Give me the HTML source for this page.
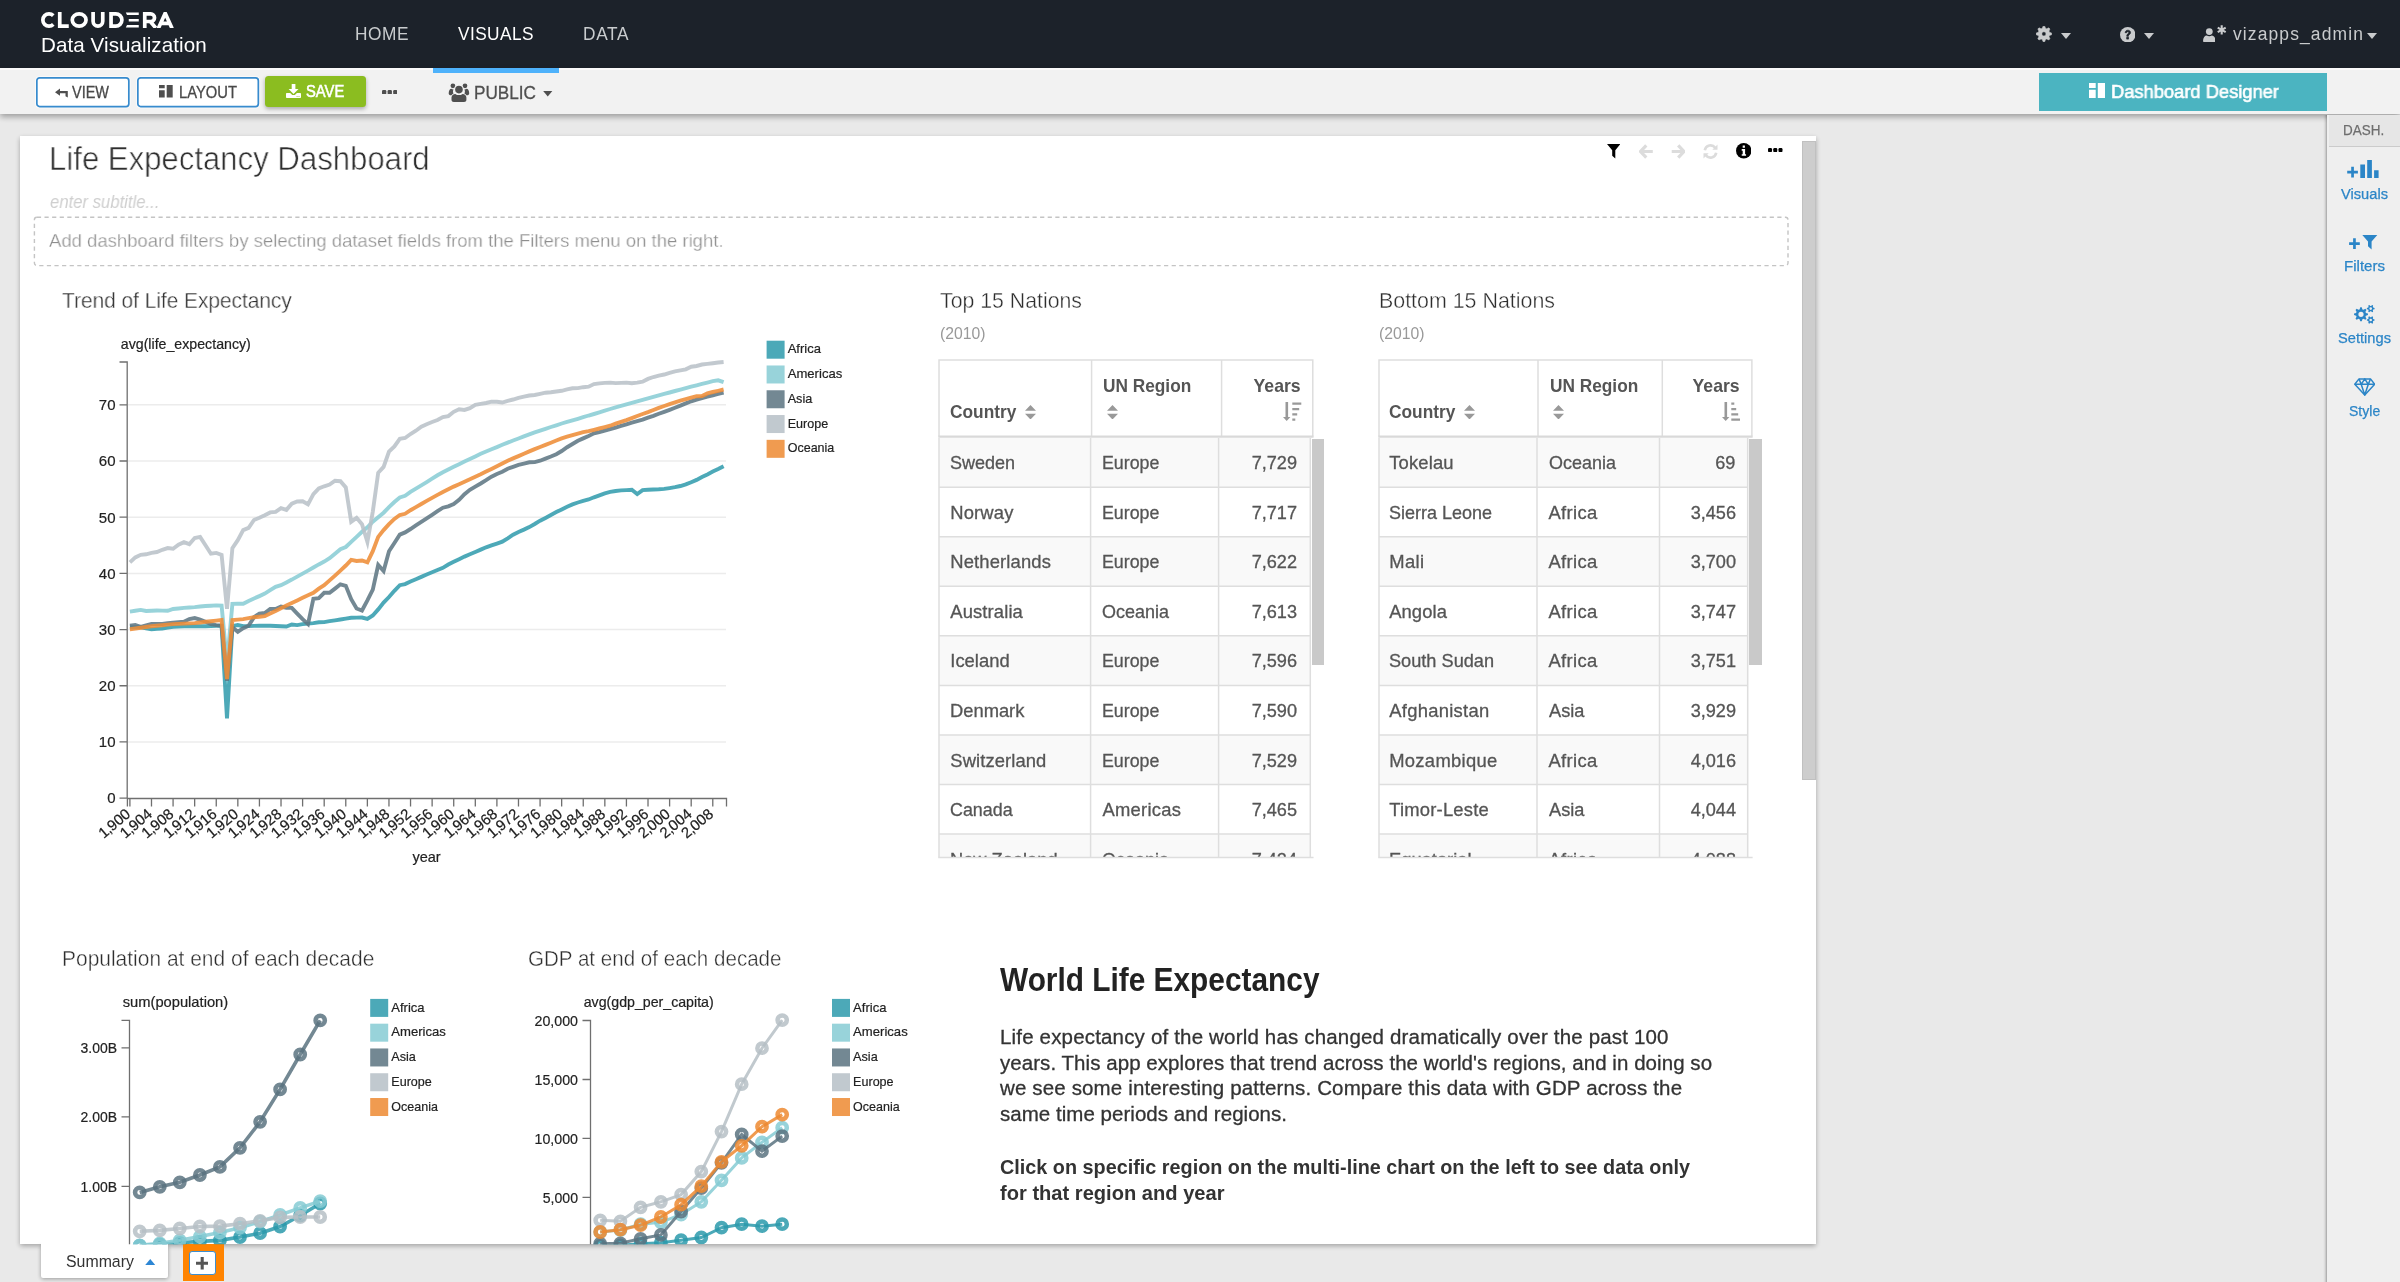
<!DOCTYPE html>
<html><head><meta charset="utf-8"><title>Life Expectancy Dashboard</title>
<style>
html,body{margin:0;padding:0}
body{width:2400px;height:1282px;overflow:hidden;position:relative;background:#e9e9e9;font-family:"Liberation Sans",sans-serif}
.a{position:absolute;display:block}
.t{position:absolute;white-space:nowrap;line-height:1;display:block}
svg text{font-family:"Liberation Sans",sans-serif;stroke:#222;stroke-width:.2px}
</style></head><body><div id="root" style="position:absolute;left:0;top:0;width:2400px;height:1282px;will-change:transform;opacity:.9999">

<div class="a" style="left:0;top:0;width:2400px;height:68px;background:#1c222a"></div>
<div class="a" style="left:0;top:68px;width:2400px;height:46px;background:#f2f2f2;box-shadow:0 3px 6px rgba(0,0,0,.32)"></div>
<div class="a" style="left:0;top:68px;width:2400px;height:1.500px;background:#fafafa"></div>
<svg class="a" style="left:40px;top:12.300px" width="136" height="16" viewBox="0 0 136 16"><g fill="none" stroke="#fff" stroke-width="3.700"><path d="M13.300 3.600A6.150 6.150 0 1 0 13.300 12.400"/><path d="M19.750 0V14.150H28.750"/><ellipse cx="39.150" cy="8" rx="6.900" ry="6.150"/><path d="M53.100 0V9.300A4.825 4.850 0 0 0 62.750 9.300V0"/><path d="M71.050 1.850H75.750A6.150 6.150 0 0 1 75.750 14.150H71.050Z"/><path d="M104.750 16V1.850H110.700A3.825 3.825 0 0 1 110.700 9.500H104.750M110.300 9.500L115.800 16"/><path d="M118.300 16.500L125.200 1.200L132.100 16.500M121.600 11.400H128.800" stroke-linejoin="miter"/></g><path d="M85.800 .6h12.950v2.500H87zM88.750 6.900h10v2.500h-10zM87 13.100h11.750v2.500H85.800z" fill="#fff"/></svg>
<span class="t" style="left:41.00px;top:34.66px;font-size:20.6px;color:#fff;letter-spacing:0.070px;">Data Visualization</span>
<span class="t" style="left:355.00px;top:24.76px;font-size:18.6px;color:#c9ccce;letter-spacing:0.576px;transform:scaleX(0.9300);transform-origin:left center;">HOME</span>
<span class="t" style="left:457.50px;top:24.76px;font-size:18.6px;color:#fff;letter-spacing:0.436px;transform:scaleX(0.9300);transform-origin:left center;">VISUALS</span>
<span class="t" style="left:582.50px;top:24.76px;font-size:18.6px;color:#c9ccce;letter-spacing:0.694px;transform:scaleX(0.9300);transform-origin:left center;">DATA</span>
<div class="a" style="left:433px;top:68px;width:126px;height:4.5px;background:#4eb2fb"></div>
<svg class="a" style="left:2035.800px;top:26.200px" width="15.800" height="15.800" viewBox="0 0 16 16"><path fill="#c9cbcd" fill-rule="evenodd" stroke="#c9cbcd" stroke-width=".5" stroke-linejoin="round" d="M15.86 7.16L15.86 8.84L13.66 9.67L13.18 10.82L14.15 12.96L12.96 14.15L10.82 13.18L9.67 13.66L8.84 15.86L7.16 15.86L6.33 13.66L5.18 13.18L3.04 14.15L1.85 12.96L2.82 10.82L2.34 9.67L0.14 8.84L0.14 7.16L2.34 6.33L2.82 5.18L1.85 3.04L3.04 1.85L5.18 2.82L6.33 2.34L7.16 0.14L8.84 0.14L9.67 2.34L10.82 2.82L12.96 1.85L14.15 3.04L13.18 5.18L13.66 6.33ZM10.10 8.00A2.1 2.1 0 1 0 5.90 8.00A2.1 2.1 0 1 0 10.10 8.00Z"/></svg>
<svg class="a" style="left:2061.3px;top:33.3px" width="10" height="6" viewBox="0 0 10 6"><path d="M0 0h10L5 6z" fill="#c9cbcd"/></svg>
<svg class="a" style="left:2119.5px;top:26.5px" width="15.5" height="15.5" viewBox="0 0 16 16"><circle cx="8" cy="8" r="8" fill="#c9cbcd"/><path d="M5.300 5.900C5.400 4.300 6.500 3.300 8.100 3.300c1.600 0 2.800 1 2.800 2.400 0 1.100-.6 1.700-1.400 2.200-.6.4-.8.700-.8 1.400v.3H7v-.5c0-1 .4-1.600 1.200-2.100.6-.4.900-.7.900-1.200 0-.6-.4-1-1.100-1-.7 0-1.100.4-1.200 1.100zM6.900 10.600h1.900v1.900H6.900z" fill="#1c222a" stroke="#1c222a" stroke-width=".7"/></svg>
<svg class="a" style="left:2144px;top:33.3px" width="10" height="6" viewBox="0 0 10 6"><path d="M0 0h10L5 6z" fill="#c9cbcd"/></svg>
<svg class="a" style="left:2202.800px;top:28.200px" width="12.600" height="14.300" viewBox="0 0 14 16"><circle cx="7" cy="4" r="3.800" fill="#c9cbcd"/><path d="M0 14.500C0 10.500 2 8.300 4.200 8.300c.8.600 1.700.9 2.800.9s2-.3 2.800-.9c2.200 0 4.200 2.200 4.200 6.200 0 .9-.7 1.500-1.600 1.500H1.600C.7 16 0 15.400 0 14.500z" fill="#c9cbcd"/></svg>
<svg class="a" style="left:0;top:0" width="2400" height="68" viewBox="0 0 2400 68"><path d="M2221.70 25.30L2221.70 34.50M2217.72 27.60L2225.68 32.20M2225.68 27.60L2217.72 32.20" stroke="#c9cbcd" stroke-width="2.100" fill="none"/></svg>
<span class="t" style="left:2232.50px;top:24.59px;font-size:18.8px;color:#c9cbcd;letter-spacing:1.199px;transform:scaleX(0.9300);transform-origin:left center;">vizapps_admin</span>
<svg class="a" style="left:2366.7px;top:32.5px" width="10" height="6" viewBox="0 0 10 6"><path d="M0 0h10L5 6z" fill="#c9cbcd"/></svg>
<svg class="a" style="left:34.4px;top:74.8px" width="97.7" height="34.4" viewBox="-2 -2 97.7 34.4"><rect x="-.3" y="-.3" width="94.3" height="31.0" rx="3.600" fill="none" stroke="rgba(255,255,255,.55)" stroke-width="1.400"/><rect x=".85" y=".85" width="92.0" height="28.7" rx="2.800" fill="#fff" stroke="#378bce" stroke-width="1.700"/></svg>
<svg class="a" style="left:134.9px;top:74.8px" width="126.2" height="34.4" viewBox="-2 -2 126.2 34.4"><rect x="-.3" y="-.3" width="122.8" height="31.0" rx="3.600" fill="none" stroke="rgba(255,255,255,.55)" stroke-width="1.400"/><rect x=".85" y=".85" width="120.5" height="28.7" rx="2.800" fill="#fff" stroke="#378bce" stroke-width="1.700"/></svg>
<div class="a" style="left:265.3px;top:76.3px;width:100.7px;height:31px;background:#8bbd20;border-radius:3.500px;box-shadow:0 2px 4px rgba(0,0,0,.3);"></div>
<svg class="a" style="left:55px;top:87.500px" width="13" height="10" viewBox="0 0 13 10"><path d="M5 .5v2.500h7.800V9.500L10.500 8.300V5.300H5v2.500L0 4.200z" fill="#4f4f4f"/></svg>
<span class="t" style="left:71.70px;top:84.02px;font-size:16.4px;color:#484848;transform:scaleX(0.8828);transform-origin:left center;-webkit-text-stroke:.3px #484848;">VIEW</span>
<svg class="a" style="left:159.300px;top:85.200px" width="13.700" height="12.600" viewBox="0 0 13.700 12.600"><path d="M0 0h5.700v3.300H0zM0 5.300h5.700v7.300H0zM7.700 0h6v12.600h-6z" fill="#4f4f4f"/></svg>
<span class="t" style="left:178.50px;top:84.02px;font-size:16.4px;color:#484848;transform:scaleX(0.9007);transform-origin:left center;-webkit-text-stroke:.3px #484848;">LAYOUT</span>
<svg class="a" style="left:286.300px;top:84px" width="15" height="14" viewBox="0 0 15 14"><path d="M5.700 0h3.700v5h3.100L7.550 10 2.600 5h3.100zM.8 9h3.400L6.300 11.100h2.500L10.900 9h3.300a.8.8 0 0 1 .8.800V13.200a.8.800 0 0 1-.8.800H.8A.8.800 0 0 1 0 13.200V9.800A.8.800 0 0 1 .8 9z" fill="#fff"/><path d="M10.600 11.900h1v.9h-1zM12.500 11.900h1v.9h-1z" fill="#8bbd20"/></svg>
<span class="t" style="left:305.70px;top:83.78px;font-size:16.8px;color:#fff;transform:scaleX(0.8790);transform-origin:left center;-webkit-text-stroke:.55px #fff;">SAVE</span>
<svg class="a" style="left:381.500px;top:89.800px" width="15.500" height="4.500" viewBox="0 0 15.500 4.500"><rect x="0" y="0" width="4.300" height="4.500" rx="1.200" fill="#4f4f4f"/><rect x="5.600" y="0" width="4.300" height="4.500" rx="1.200" fill="#4f4f4f"/><rect x="11.200" y="0" width="4.300" height="4.500" rx="1.200" fill="#4f4f4f"/></svg>
<svg class="a" style="left:448px;top:83px" width="21.500" height="19.500" viewBox="0 0 21.500 19.500"><g fill="#4f4f4f"><circle cx="4.900" cy="2.800" r="2.350"/><circle cx="17" cy="2.800" r="2.350"/><path d="M.7 10.300C.7 7.400 1.900 5.700 3.300 5.700c.6.500 1.400.700 2.200.700-.7 1.300-.7 2.800 0 4.100-.9.300-1.600.900-2 1.700H2.200C1.300 12.200.7 11.400.7 10.300zM21.200 10.300c0-2.900-1.200-4.600-2.600-4.600-.6.500-1.400.700-2.200.700.7 1.300.7 2.800 0 4.100.9.300 1.600.900 2 1.700h1.300c.9 0 1.500-.8 1.500-1.900z"/><circle cx="10.950" cy="6.600" r="4.700" fill="#f2f2f2"/><circle cx="10.950" cy="6.600" r="3.800"/><path d="M3.500 16.800V14.600C3.500 12.400 5.300 10.900 7.300 10.900c1 .8 2.250 1.200 3.650 1.200s2.650-.4 3.650-1.200c2 0 3.800 1.500 3.800 3.700v2.200c0 1.300-1 2.300-2.300 2.300H5.800c-1.300 0-2.300-1-2.300-2.300z"/></g></svg>
<span class="t" style="left:474.00px;top:82.92px;font-size:19px;color:#4f4f4f;transform:scaleX(0.9033);transform-origin:left center;-webkit-text-stroke:.3px #4f4f4f;">PUBLIC</span>
<svg class="a" style="left:543px;top:91px" width="9.5" height="5.5" viewBox="0 0 10 6"><path d="M0 0h10L5 6z" fill="#4f4f4f"/></svg>
<div class="a" style="left:2039px;top:72.700px;width:288.300px;height:38.200px;background:#4bb4c1"></div>
<svg class="a" style="left:2088.800px;top:82.500px" width="16" height="15.500" viewBox="0 0 16 15.500"><path d="M0 0h6.700v5H0zM0 6.800h6.700v8.700H0zM8.800 0H16v15.500H8.800z" fill="#fff"/></svg>
<span class="t" style="left:2111.20px;top:83.16px;font-size:18.6px;color:#fff;transform:scaleX(0.9848);transform-origin:left center;-webkit-text-stroke:.6px #fff;">Dashboard Designer</span>
<div class="a" style="left:19.7px;top:135.5px;width:1796.1px;height:1108.8px;background:#fff;box-shadow:0 2px 5px rgba(0,0,0,.3)"></div>
<div class="a" style="left:1801.8px;top:141px;width:14px;height:639px;background:#cdcdcd;border:1px solid #c0c0c0;box-sizing:border-box"></div>
<span class="t" style="left:48.70px;top:141.64px;font-size:33.5px;color:#2e2e2e;transform:scaleX(0.9290);transform-origin:left center;-webkit-text-stroke:.65px #fff;">Life Expectancy Dashboard</span>
<span class="t" style="left:50.00px;top:193.83px;font-size:17.8px;color:#cfcfcf;transform:scaleX(0.9379);transform-origin:left center;font-style:italic;">enter subtitle...</span>
<svg class="a" style="left:32px;top:215px" width="1760" height="54" viewBox="32 215 1760 54"><rect x="34.400" y="217.300" width="1753.600" height="48.300" rx="2.500" fill="none" stroke="#c4c4c4" stroke-width="1.400" stroke-dasharray="4.200 3.400"/></svg>
<span class="t" style="left:48.70px;top:230.82px;font-size:19px;color:#8e8e8e;transform:scaleX(0.9736);transform-origin:left center;-webkit-text-stroke:.3px #fff;">Add dashboard filters by selecting dataset fields from the Filters menu on the right.</span>
<svg class="a" style="left:1606.500px;top:144px" width="13.500" height="14.500" viewBox="0 0 13.500 14.500"><path d="M0 0h13.500L8.300 6.300v8.200L5.200 11.700V6.300z" fill="#000"/></svg>
<svg class="a" style="left:1638.500px;top:144px" width="14.500" height="15" viewBox="0 0 14.500 15"><path d="M7.300 1.300L1.500 7.500l5.800 6.200M1.800 7.500h12" fill="none" stroke="#dcdcdc" stroke-width="3.200"/></svg>
<svg class="a" style="left:1670.500px;top:144px" width="14.500" height="15" viewBox="0 0 14.500 15"><path d="M7.200 1.300L13 7.500l-5.800 6.200M12.700 7.500H.7" fill="none" stroke="#dcdcdc" stroke-width="3.200"/></svg>
<svg class="a" style="left:1703px;top:143.500px" width="15" height="15" viewBox="0 0 15 15"><g fill="none" stroke="#dcdcdc" stroke-width="2.600"><path d="M1.800 6.300A5.800 5.800 0 0 1 12.300 3.900"/><path d="M13.200 8.700A5.800 5.800 0 0 1 2.700 11.100"/></g><path d="M14.500 .5v5.200H9.300zM.5 14.500V9.300h5.200z" fill="#dcdcdc"/></svg>
<svg class="a" style="left:1735.500px;top:143px" width="15.500" height="15.500" viewBox="0 0 16 16"><circle cx="8" cy="8" r="8" fill="#000"/><path d="M6.900 2.600h2.300v2.200H6.900zM5.900 6.300h3.500v5.200h1v1.700H5.900v-1.700h1V8H5.900z" fill="#fff"/></svg>
<svg class="a" style="left:1768px;top:148px" width="14.500" height="4.200" viewBox="0 0 14.500 4.200"><rect x="0" y="0" width="4" height="4.200" rx="1.200" fill="#000"/><rect x="5.250" y="0" width="4" height="4.200" rx="1.200" fill="#000"/><rect x="10.500" y="0" width="4" height="4.200" rx="1.200" fill="#000"/></svg>
<span class="t" style="left:61.90px;top:289.65px;font-size:22.5px;color:#2e2e2e;transform:scaleX(0.9264);transform-origin:left center;-webkit-text-stroke:.4px #fff;">Trend of Life Expectancy</span>
<span class="t" style="left:939.50px;top:289.65px;font-size:22.5px;color:#2e2e2e;transform:scaleX(0.9461);transform-origin:left center;-webkit-text-stroke:.4px #fff;">Top 15 Nations</span>
<span class="t" style="left:939.50px;top:324.53px;font-size:16.5px;color:#999;transform:scaleX(0.9541);transform-origin:left center;">(2010)</span>
<span class="t" style="left:1378.50px;top:289.65px;font-size:22.5px;color:#2e2e2e;transform:scaleX(0.9508);transform-origin:left center;-webkit-text-stroke:.4px #fff;">Bottom 15 Nations</span>
<span class="t" style="left:1378.50px;top:324.53px;font-size:16.5px;color:#999;transform:scaleX(0.9541);transform-origin:left center;">(2010)</span>
<span class="t" style="left:61.90px;top:947.95px;font-size:22.5px;color:#2e2e2e;transform:scaleX(0.9315);transform-origin:left center;-webkit-text-stroke:.4px #fff;">Population at end of each decade</span>
<span class="t" style="left:528.30px;top:947.95px;font-size:22.5px;color:#2e2e2e;transform:scaleX(0.9142);transform-origin:left center;-webkit-text-stroke:.4px #fff;">GDP at end of each decade</span>
<div class="a" style="left:41.3px;top:1244.5px;width:126.5px;height:33.2px;background:#fff;box-shadow:0 1px 4px rgba(0,0,0,.35);border-radius:0 0 2px 2px"></div>
<div class="a" style="left:41.3px;top:1240px;width:126.5px;height:8px;background:#fff"></div>
<span class="t" style="left:66.00px;top:1254.38px;font-size:16.8px;color:#333;transform:scaleX(0.9461);transform-origin:left center;">Summary</span>
<svg class="a" style="left:144.500px;top:1258.500px" width="10.500" height="6" viewBox="0 0 10 6"><path d="M0 6h10L5 0z" fill="#2d86d4"/></svg>
<div class="a" style="left:182.800px;top:1244px;width:41.200px;height:36.700px;background:#ff8400"></div>
<div class="a" style="left:189.300px;top:1251.200px;width:26.700px;height:23.500px;box-sizing:border-box;background:#fff;border:1px solid #3d8fd1;border-radius:3px"></div>
<svg class="a" style="left:196px;top:1257.400px" width="12.400" height="12.400" viewBox="0 0 12 12"><path d="M4.500 0h3v4.500H12v3H7.500V12H4.500V7.500H0V4.500h4.500z" fill="#555"/></svg>
<svg class="a" style="left:0;top:0" width="2400" height="1282" viewBox="0 0 2400 1282">
<defs><clipPath id="pc"><rect x="20" y="136" width="1796" height="1108.3"/></clipPath></defs>
<g clip-path="url(#pc)">
<path d="M127.8 741.96H726" stroke="#ececec" stroke-width="1.500" fill="none"/>
<path d="M127.8 685.77H726" stroke="#ececec" stroke-width="1.500" fill="none"/>
<path d="M127.8 629.58H726" stroke="#ececec" stroke-width="1.500" fill="none"/>
<path d="M127.8 573.39H726" stroke="#ececec" stroke-width="1.500" fill="none"/>
<path d="M127.8 517.20H726" stroke="#ececec" stroke-width="1.500" fill="none"/>
<path d="M127.8 461.01H726" stroke="#ececec" stroke-width="1.500" fill="none"/>
<path d="M127.8 404.82H726" stroke="#ececec" stroke-width="1.500" fill="none"/>
<path d="M129.9 627.3L135.3 627.3L140.7 627.3L146.1 628.3L151.5 629.2L156.9 628.8L162.3 628.5L167.7 627.6L173.1 626.8L178.5 626.5L183.9 626.2L189.3 626.2L194.7 626.2L200.1 626.2L205.5 626.2L210.9 626.1L216.3 625.9L221.6 625.8L227.0 718.4L232.4 626.2L237.8 625.1L243.2 626.2L248.6 626.1L254.0 625.9L259.4 625.8L264.8 625.8L270.2 625.8L275.6 626.0L281.0 626.2L286.4 626.5L291.8 624.5L297.2 625.1L302.6 624.1L308.0 623.6L313.4 623.1L318.8 622.3L324.2 622.1L329.6 621.2L335.0 620.3L340.4 619.5L345.8 618.6L351.2 617.8L356.6 617.6L362.0 617.5L367.4 618.9L372.8 615.5L378.2 609.4L383.6 602.6L389.0 597.0L394.4 590.8L399.8 585.2L405.1 584.1L410.5 581.5L415.9 579.2L421.3 576.9L426.7 574.5L432.1 572.3L437.5 570.0L442.9 567.8L448.3 564.5L453.7 561.8L459.1 559.2L464.5 556.6L469.9 554.3L475.3 552.0L480.7 549.6L486.1 547.3L491.5 545.4L496.9 543.6L502.3 541.7L507.7 538.3L513.1 534.7L518.5 531.9L523.9 529.6L529.3 527.1L534.7 524.0L540.1 520.7L545.5 517.9L550.9 515.0L556.3 512.1L561.7 509.4L567.1 506.7L572.5 504.4L577.9 502.5L583.2 500.9L588.6 499.5L594.0 497.3L599.4 495.3L604.8 493.3L610.2 491.9L615.6 491.0L621.0 490.4L626.4 490.1L631.8 489.8L637.2 494.0L642.6 490.1L648.0 489.8L653.4 489.5L658.8 489.3L664.2 488.9L669.6 488.1L675.0 487.2L680.4 486.0L685.8 484.4L691.2 482.2L696.6 479.9L702.0 477.0L707.4 474.4L712.8 471.6L718.2 469.0L723.6 466.2" fill="none" stroke="#349dae" stroke-width="3.900" stroke-opacity=".88" stroke-miterlimit="10"/>
<path d="M129.9 611.6L135.3 610.8L140.7 609.9L146.1 611.0L151.5 610.8L156.9 610.5L162.3 610.6L167.7 610.8L173.1 609.0L178.5 608.5L183.9 607.9L189.3 607.5L194.7 607.1L200.1 606.5L205.5 606.0L210.9 605.7L216.3 605.4L221.6 605.7L227.0 663.3L232.4 603.9L237.8 603.8L243.2 603.7L248.6 600.9L254.0 598.5L259.4 596.1L264.8 593.6L270.2 590.2L275.6 586.9L281.0 585.2L286.4 582.4L291.8 579.6L297.2 576.6L302.6 573.6L308.0 570.6L313.4 567.5L318.8 564.4L324.2 561.6L329.6 558.2L335.0 553.7L340.4 549.2L345.8 547.0L351.2 541.9L356.6 536.9L362.0 531.8L367.4 527.3L372.8 521.7L378.2 517.2L383.6 512.7L389.0 507.1L394.4 502.0L399.8 497.5L405.1 495.8L410.5 491.9L415.9 488.6L421.3 485.4L426.7 482.1L432.1 478.7L437.5 475.3L442.9 472.3L448.3 469.5L453.7 466.8L459.1 464.2L464.5 461.6L469.9 459.0L475.3 456.4L480.7 453.8L486.1 451.5L491.5 449.3L496.9 447.1L502.3 444.8L507.7 442.6L513.1 440.5L518.5 438.5L523.9 436.4L529.3 434.4L534.7 432.4L540.1 430.6L545.5 428.8L550.9 427.0L556.3 425.3L561.7 423.5L567.1 421.9L572.5 420.4L577.9 418.8L583.2 417.2L588.6 415.5L594.0 414.0L599.4 412.4L604.8 410.7L610.2 409.0L615.6 407.3L621.0 405.9L626.4 404.4L631.8 402.9L637.2 401.4L642.6 399.9L648.0 398.4L653.4 396.9L658.8 395.4L664.2 393.9L669.6 392.5L675.0 391.0L680.4 389.6L685.8 388.1L691.2 386.7L696.6 385.3L702.0 383.9L707.4 382.6L712.8 381.2L718.2 380.3L723.6 382.1" fill="none" stroke="#8acdd5" stroke-width="3.900" stroke-opacity=".88" stroke-miterlimit="10"/>
<path d="M129.9 625.8L135.3 625.1L140.7 626.8L146.1 625.4L151.5 624.0L156.9 624.0L162.3 624.0L167.7 623.3L173.1 622.6L178.5 622.1L183.9 621.7L189.3 619.1L194.7 618.1L200.1 619.7L205.5 621.7L210.9 624.1L216.3 625.1L221.6 625.8L227.0 680.7L232.4 627.3L237.8 631.8L243.2 628.2L248.6 625.8L254.0 617.2L259.4 613.6L264.8 613.0L270.2 609.0L275.6 609.0L281.0 606.5L286.4 607.7L291.8 607.9L297.2 613.6L302.6 619.1L308.0 624.1L313.4 598.7L318.8 598.1L324.2 592.8L329.6 592.8L335.0 588.6L340.4 584.3L345.8 585.8L351.2 599.2L356.6 608.5L362.0 610.5L367.4 600.4L372.8 589.7L378.2 565.0L383.6 571.1L389.0 551.2L394.4 543.0L399.8 534.6L405.1 532.4L410.5 529.0L415.9 525.4L421.3 521.9L426.7 518.3L432.1 514.8L437.5 511.2L442.9 507.7L448.3 506.3L453.7 504.0L459.1 499.8L464.5 494.2L469.9 489.8L475.3 486.6L480.7 483.5L486.1 480.2L491.5 476.7L496.9 473.9L502.3 471.7L507.7 468.7L513.1 466.8L518.5 464.9L523.9 463.6L529.3 462.3L534.7 462.1L540.1 460.7L545.5 458.6L550.9 456.5L556.3 454.2L561.7 451.0L567.1 447.2L572.5 444.0L577.9 440.8L583.2 438.4L588.6 436.0L594.0 433.3L599.4 432.1L604.8 430.6L610.2 429.1L615.6 427.6L621.0 425.9L626.4 424.3L631.8 422.7L637.2 421.2L642.6 419.6L648.0 417.7L653.4 415.9L658.8 413.8L664.2 411.8L669.6 409.8L675.0 407.7L680.4 405.6L685.8 403.4L691.2 401.3L696.6 399.7L702.0 398.1L707.4 396.7L712.8 395.3L718.2 393.9L723.6 392.6" fill="none" stroke="#607884" stroke-width="3.900" stroke-opacity=".88" stroke-miterlimit="10"/>
<path d="M129.9 562.4L135.3 557.4L140.7 554.8L146.1 554.3L151.5 552.9L156.9 552.0L162.3 549.8L167.7 548.1L173.1 548.7L178.5 544.7L183.9 542.2L189.3 544.2L194.7 538.0L200.1 536.9L205.5 545.3L210.9 553.7L216.3 552.9L221.6 554.8L227.0 608.8L232.4 548.1L237.8 540.2L243.2 530.1L248.6 527.9L254.0 520.0L259.4 517.8L264.8 515.2L270.2 512.4L275.6 511.9L281.0 508.2L286.4 509.9L291.8 503.7L297.2 501.5L302.6 501.2L308.0 504.3L313.4 494.2L318.8 488.5L324.2 486.3L329.6 484.6L335.0 480.7L340.4 481.2L345.8 487.4L351.2 521.7L356.6 517.8L362.0 524.2L367.4 541.9L372.8 511.6L378.2 472.8L383.6 466.9L389.0 451.5L394.4 446.4L399.8 438.8L405.1 438.0L410.5 434.0L415.9 430.7L421.3 426.7L426.7 424.2L432.1 422.0L437.5 420.0L442.9 417.0L448.3 416.1L453.7 411.8L459.1 409.2L464.5 409.9L469.9 408.1L475.3 404.8L480.7 403.9L486.1 403.0L491.5 401.7L496.9 401.7L502.3 402.5L507.7 400.8L513.1 399.5L518.5 397.9L523.9 396.7L529.3 395.5L534.7 395.0L540.1 393.9L545.5 392.7L550.9 392.2L556.3 391.5L561.7 390.8L567.1 389.4L572.5 388.3L577.9 388.1L583.2 387.2L588.6 386.7L594.0 384.1L599.4 383.4L604.8 382.9L610.2 382.6L615.6 383.1L621.0 382.9L626.4 382.6L631.8 383.3L637.2 382.6L642.6 381.7L648.0 378.9L653.4 377.0L658.8 375.6L664.2 374.5L669.6 372.8L675.0 371.4L680.4 370.4L685.8 369.3L691.2 366.7L696.6 366.0L702.0 364.5L707.4 363.9L712.8 363.2L718.2 362.5L723.6 362.0" fill="none" stroke="#b9c2c8" stroke-width="3.900" stroke-opacity=".88" stroke-miterlimit="10"/>
<path d="M129.9 629.2L135.3 628.5L140.7 627.7L146.1 627.0L151.5 626.2L156.9 625.7L162.3 625.2L167.7 624.6L173.1 624.1L178.5 623.9L183.9 623.6L189.3 623.4L194.7 623.1L200.1 622.5L205.5 621.8L210.9 621.2L216.3 620.6L221.6 620.0L227.0 679.0L232.4 620.0L237.8 619.6L243.2 619.1L248.6 618.1L254.0 617.2L259.4 616.7L264.8 616.1L270.2 613.6L275.6 611.0L281.0 608.3L286.4 605.6L291.8 602.9L297.2 600.4L302.6 597.8L308.0 595.3L313.4 592.8L318.8 588.6L324.2 585.2L329.6 580.4L335.0 575.6L340.4 570.6L345.8 565.5L351.2 559.9L356.6 561.0L362.0 560.5L367.4 562.4L372.8 551.2L378.2 536.9L383.6 530.1L389.0 524.2L394.4 518.9L399.8 515.0L405.1 513.8L410.5 510.2L415.9 507.1L421.3 504.0L426.7 500.9L432.1 497.9L437.5 494.9L442.9 492.0L448.3 489.3L453.7 486.6L459.1 484.2L464.5 481.8L469.9 479.3L475.3 476.7L480.7 474.3L486.1 471.6L491.5 468.9L496.9 466.2L502.3 463.4L507.7 460.7L513.1 458.4L518.5 456.1L523.9 453.7L529.3 451.4L534.7 449.1L540.1 447.0L545.5 444.9L550.9 442.7L556.3 440.5L561.7 438.4L567.1 436.7L572.5 435.1L577.9 433.6L583.2 432.1L588.6 431.2L594.0 429.9L599.4 428.5L604.8 427.1L610.2 425.7L615.6 423.6L621.0 421.9L626.4 420.1L631.8 418.1L637.2 416.0L642.6 414.0L648.0 412.1L653.4 410.0L658.8 407.9L664.2 406.0L669.6 404.1L675.0 402.4L680.4 400.7L685.8 399.2L691.2 397.6L696.6 396.2L702.0 396.0L707.4 393.4L712.8 392.0L718.2 390.8L723.6 389.5" fill="none" stroke="#ee8d38" stroke-width="3.900" stroke-opacity=".88" stroke-miterlimit="10"/>
<path d="M119.5 362H127.2V798.15H119.5M119.5 741.96H127.2M119.5 685.77H127.2M119.5 629.58H127.2M119.5 573.39H127.2M119.5 517.20H127.2M119.5 461.01H127.2M119.5 404.82H127.2" fill="none" stroke="#6f6f6f" stroke-width="1.300"/>
<text x="115.500" y="803.4" font-size="15" text-anchor="end" fill="#222">0</text>
<text x="115.500" y="747.3" font-size="15" text-anchor="end" fill="#222">10</text>
<text x="115.500" y="691.1" font-size="15" text-anchor="end" fill="#222">20</text>
<text x="115.500" y="634.9" font-size="15" text-anchor="end" fill="#222">30</text>
<text x="115.500" y="578.7" font-size="15" text-anchor="end" fill="#222">40</text>
<text x="115.500" y="522.5" font-size="15" text-anchor="end" fill="#222">50</text>
<text x="115.500" y="466.3" font-size="15" text-anchor="end" fill="#222">60</text>
<text x="115.500" y="410.1" font-size="15" text-anchor="end" fill="#222">70</text>
<path d="M127.4 806.6V798.5H726.5V806.6M129.90 798.5V806.6M151.49 798.5V806.6M173.08 798.5V806.6M194.66 798.5V806.6M216.25 798.5V806.6M237.84 798.5V806.6M259.43 798.5V806.6M281.02 798.5V806.6M302.60 798.5V806.6M324.19 798.5V806.6M345.78 798.5V806.6M367.37 798.5V806.6M388.96 798.5V806.6M410.54 798.5V806.6M432.13 798.5V806.6M453.72 798.5V806.6M475.31 798.5V806.6M496.90 798.5V806.6M518.48 798.5V806.6M540.07 798.5V806.6M561.66 798.5V806.6M583.25 798.5V806.6M604.84 798.5V806.6M626.42 798.5V806.6M648.01 798.5V806.6M669.60 798.5V806.6M691.19 798.5V806.6M712.78 798.5V806.6" fill="none" stroke="#6f6f6f" stroke-width="1.300"/>
<text transform="translate(131.5 815.6) rotate(-40)" font-size="15" text-anchor="end" fill="#222">1<tspan dx="-.6">,</tspan><tspan dx="-.6">900</tspan></text>
<text transform="translate(153.1 815.6) rotate(-40)" font-size="15" text-anchor="end" fill="#222">1<tspan dx="-.6">,</tspan><tspan dx="-.6">904</tspan></text>
<text transform="translate(174.7 815.6) rotate(-40)" font-size="15" text-anchor="end" fill="#222">1<tspan dx="-.6">,</tspan><tspan dx="-.6">908</tspan></text>
<text transform="translate(196.3 815.6) rotate(-40)" font-size="15" text-anchor="end" fill="#222">1<tspan dx="-.6">,</tspan><tspan dx="-.6">912</tspan></text>
<text transform="translate(217.9 815.6) rotate(-40)" font-size="15" text-anchor="end" fill="#222">1<tspan dx="-.6">,</tspan><tspan dx="-.6">916</tspan></text>
<text transform="translate(239.4 815.6) rotate(-40)" font-size="15" text-anchor="end" fill="#222">1<tspan dx="-.6">,</tspan><tspan dx="-.6">920</tspan></text>
<text transform="translate(261.0 815.6) rotate(-40)" font-size="15" text-anchor="end" fill="#222">1<tspan dx="-.6">,</tspan><tspan dx="-.6">924</tspan></text>
<text transform="translate(282.6 815.6) rotate(-40)" font-size="15" text-anchor="end" fill="#222">1<tspan dx="-.6">,</tspan><tspan dx="-.6">928</tspan></text>
<text transform="translate(304.2 815.6) rotate(-40)" font-size="15" text-anchor="end" fill="#222">1<tspan dx="-.6">,</tspan><tspan dx="-.6">932</tspan></text>
<text transform="translate(325.8 815.6) rotate(-40)" font-size="15" text-anchor="end" fill="#222">1<tspan dx="-.6">,</tspan><tspan dx="-.6">936</tspan></text>
<text transform="translate(347.4 815.6) rotate(-40)" font-size="15" text-anchor="end" fill="#222">1<tspan dx="-.6">,</tspan><tspan dx="-.6">940</tspan></text>
<text transform="translate(369.0 815.6) rotate(-40)" font-size="15" text-anchor="end" fill="#222">1<tspan dx="-.6">,</tspan><tspan dx="-.6">944</tspan></text>
<text transform="translate(390.6 815.6) rotate(-40)" font-size="15" text-anchor="end" fill="#222">1<tspan dx="-.6">,</tspan><tspan dx="-.6">948</tspan></text>
<text transform="translate(412.1 815.6) rotate(-40)" font-size="15" text-anchor="end" fill="#222">1<tspan dx="-.6">,</tspan><tspan dx="-.6">952</tspan></text>
<text transform="translate(433.7 815.6) rotate(-40)" font-size="15" text-anchor="end" fill="#222">1<tspan dx="-.6">,</tspan><tspan dx="-.6">956</tspan></text>
<text transform="translate(455.3 815.6) rotate(-40)" font-size="15" text-anchor="end" fill="#222">1<tspan dx="-.6">,</tspan><tspan dx="-.6">960</tspan></text>
<text transform="translate(476.9 815.6) rotate(-40)" font-size="15" text-anchor="end" fill="#222">1<tspan dx="-.6">,</tspan><tspan dx="-.6">964</tspan></text>
<text transform="translate(498.5 815.6) rotate(-40)" font-size="15" text-anchor="end" fill="#222">1<tspan dx="-.6">,</tspan><tspan dx="-.6">968</tspan></text>
<text transform="translate(520.1 815.6) rotate(-40)" font-size="15" text-anchor="end" fill="#222">1<tspan dx="-.6">,</tspan><tspan dx="-.6">972</tspan></text>
<text transform="translate(541.7 815.6) rotate(-40)" font-size="15" text-anchor="end" fill="#222">1<tspan dx="-.6">,</tspan><tspan dx="-.6">976</tspan></text>
<text transform="translate(563.3 815.6) rotate(-40)" font-size="15" text-anchor="end" fill="#222">1<tspan dx="-.6">,</tspan><tspan dx="-.6">980</tspan></text>
<text transform="translate(584.8 815.6) rotate(-40)" font-size="15" text-anchor="end" fill="#222">1<tspan dx="-.6">,</tspan><tspan dx="-.6">984</tspan></text>
<text transform="translate(606.4 815.6) rotate(-40)" font-size="15" text-anchor="end" fill="#222">1<tspan dx="-.6">,</tspan><tspan dx="-.6">988</tspan></text>
<text transform="translate(628.0 815.6) rotate(-40)" font-size="15" text-anchor="end" fill="#222">1<tspan dx="-.6">,</tspan><tspan dx="-.6">992</tspan></text>
<text transform="translate(649.6 815.6) rotate(-40)" font-size="15" text-anchor="end" fill="#222">1<tspan dx="-.6">,</tspan><tspan dx="-.6">996</tspan></text>
<text transform="translate(671.2 815.6) rotate(-40)" font-size="15" text-anchor="end" fill="#222">2<tspan dx="-.6">,</tspan><tspan dx="-.6">000</tspan></text>
<text transform="translate(692.8 815.6) rotate(-40)" font-size="15" text-anchor="end" fill="#222">2<tspan dx="-.6">,</tspan><tspan dx="-.6">004</tspan></text>
<text transform="translate(714.4 815.6) rotate(-40)" font-size="15" text-anchor="end" fill="#222">2<tspan dx="-.6">,</tspan><tspan dx="-.6">008</tspan></text>
<text x="120.800" y="348.500" font-size="14.500" fill="#222" textLength="130" lengthAdjust="spacingAndGlyphs">avg(life_expectancy)</text>
<text x="426.500" y="861.600" font-size="14.500" fill="#222" text-anchor="middle">year</text>
<rect x="766.6" y="340.70" width="18" height="18" fill="#4ca9b8"/>
<text x="787.7" y="353.30" font-size="13.300" fill="#222" textLength="33.3" lengthAdjust="spacingAndGlyphs">Africa</text>
<rect x="766.6" y="365.48" width="18" height="18" fill="#98d3da"/>
<text x="787.7" y="378.08" font-size="13.300" fill="#222" textLength="54.6" lengthAdjust="spacingAndGlyphs">Americas</text>
<rect x="766.6" y="390.26" width="18" height="18" fill="#738893"/>
<text x="787.7" y="402.86" font-size="13.300" fill="#222" textLength="24.6" lengthAdjust="spacingAndGlyphs">Asia</text>
<rect x="766.6" y="415.04" width="18" height="18" fill="#c1c9cf"/>
<text x="787.7" y="427.64" font-size="13.300" fill="#222" textLength="40.5" lengthAdjust="spacingAndGlyphs">Europe</text>
<rect x="766.6" y="439.82" width="18" height="18" fill="#f09b50"/>
<text x="787.7" y="452.42" font-size="13.300" fill="#222" textLength="46.6" lengthAdjust="spacingAndGlyphs">Oceania</text>
<g stroke="#2c9aab" fill="none" stroke-opacity=".85"><path d="M139.7 1245.7L159.8 1244.3L179.8 1242.8L199.9 1241.4L219.9 1240.4L240.0 1237.1L260.1 1233.2L280.1 1226.5L300.2 1215.5L320.2 1203.5" stroke-width="3.6"/>
<circle cx="139.7" cy="1245.7" r="4.65" stroke-width="4.5"/><circle cx="159.8" cy="1244.3" r="4.65" stroke-width="4.5"/><circle cx="179.8" cy="1242.8" r="4.65" stroke-width="4.5"/><circle cx="199.9" cy="1241.4" r="4.65" stroke-width="4.5"/><circle cx="219.9" cy="1240.4" r="4.65" stroke-width="4.5"/><circle cx="240.0" cy="1237.1" r="4.65" stroke-width="4.5"/><circle cx="260.1" cy="1233.2" r="4.65" stroke-width="4.5"/><circle cx="280.1" cy="1226.5" r="4.65" stroke-width="4.5"/><circle cx="300.2" cy="1215.5" r="4.65" stroke-width="4.5"/><circle cx="320.2" cy="1203.5" r="4.65" stroke-width="4.5"/></g>
<g stroke="#86cbd3" fill="none" stroke-opacity=".85"><path d="M139.7 1245.4L159.8 1243.4L179.8 1240.3L199.9 1236.6L219.9 1232.6L240.0 1227.7L260.1 1221.7L280.1 1215.0L300.2 1207.9L320.2 1201.1" stroke-width="3.6"/>
<circle cx="139.7" cy="1245.4" r="4.65" stroke-width="4.5"/><circle cx="159.8" cy="1243.4" r="4.65" stroke-width="4.5"/><circle cx="179.8" cy="1240.3" r="4.65" stroke-width="4.5"/><circle cx="199.9" cy="1236.6" r="4.65" stroke-width="4.5"/><circle cx="219.9" cy="1232.6" r="4.65" stroke-width="4.5"/><circle cx="240.0" cy="1227.7" r="4.65" stroke-width="4.5"/><circle cx="260.1" cy="1221.7" r="4.65" stroke-width="4.5"/><circle cx="280.1" cy="1215.0" r="4.65" stroke-width="4.5"/><circle cx="300.2" cy="1207.9" r="4.65" stroke-width="4.5"/><circle cx="320.2" cy="1201.1" r="4.65" stroke-width="4.5"/></g>
<g stroke="#5a7380" fill="none" stroke-opacity=".85"><path d="M139.7 1192.4L159.8 1186.8L179.8 1182.3L199.9 1175.0L219.9 1166.9L240.0 1147.8L260.1 1121.8L280.1 1089.4L300.2 1054.5L320.2 1020.4" stroke-width="3.6"/>
<circle cx="139.7" cy="1192.4" r="4.65" stroke-width="4.5"/><circle cx="159.8" cy="1186.8" r="4.65" stroke-width="4.5"/><circle cx="179.8" cy="1182.3" r="4.65" stroke-width="4.5"/><circle cx="199.9" cy="1175.0" r="4.65" stroke-width="4.5"/><circle cx="219.9" cy="1166.9" r="4.65" stroke-width="4.5"/><circle cx="240.0" cy="1147.8" r="4.65" stroke-width="4.5"/><circle cx="260.1" cy="1121.8" r="4.65" stroke-width="4.5"/><circle cx="280.1" cy="1089.4" r="4.65" stroke-width="4.5"/><circle cx="300.2" cy="1054.5" r="4.65" stroke-width="4.5"/><circle cx="320.2" cy="1020.4" r="4.65" stroke-width="4.5"/></g>
<g stroke="#b6bfc6" fill="none" stroke-opacity=".85"><path d="M139.7 1231.3L159.8 1230.4L179.8 1228.5L199.9 1226.5L219.9 1226.1L240.0 1223.7L260.1 1220.8L280.1 1217.4L300.2 1217.0L320.2 1217.0" stroke-width="3.6"/>
<circle cx="139.7" cy="1231.3" r="4.65" stroke-width="4.5"/><circle cx="159.8" cy="1230.4" r="4.65" stroke-width="4.5"/><circle cx="179.8" cy="1228.5" r="4.65" stroke-width="4.5"/><circle cx="199.9" cy="1226.5" r="4.65" stroke-width="4.5"/><circle cx="219.9" cy="1226.1" r="4.65" stroke-width="4.5"/><circle cx="240.0" cy="1223.7" r="4.65" stroke-width="4.5"/><circle cx="260.1" cy="1220.8" r="4.65" stroke-width="4.5"/><circle cx="280.1" cy="1217.4" r="4.65" stroke-width="4.5"/><circle cx="300.2" cy="1217.0" r="4.65" stroke-width="4.5"/><circle cx="320.2" cy="1217.0" r="4.65" stroke-width="4.5"/></g>
<g stroke="#ed8931" fill="none" stroke-opacity=".85"><path d="M139.7 1255.0L159.8 1255.0L179.8 1255.0L199.9 1255.0L219.9 1255.0L240.0 1255.0L260.1 1255.0L280.1 1254.8L300.2 1254.6L320.2 1254.4" stroke-width="3.6"/>
<circle cx="139.7" cy="1255.0" r="4.65" stroke-width="4.5"/><circle cx="159.8" cy="1255.0" r="4.65" stroke-width="4.5"/><circle cx="179.8" cy="1255.0" r="4.65" stroke-width="4.5"/><circle cx="199.9" cy="1255.0" r="4.65" stroke-width="4.5"/><circle cx="219.9" cy="1255.0" r="4.65" stroke-width="4.5"/><circle cx="240.0" cy="1255.0" r="4.65" stroke-width="4.5"/><circle cx="260.1" cy="1255.0" r="4.65" stroke-width="4.5"/><circle cx="280.1" cy="1254.8" r="4.65" stroke-width="4.5"/><circle cx="300.2" cy="1254.6" r="4.65" stroke-width="4.5"/><circle cx="320.2" cy="1254.4" r="4.65" stroke-width="4.5"/></g>
<path d="M121.5 1020.4H129.5V1260M121.5 1047.8H129.5M121.5 1116.8H129.5M121.5 1186.3H129.5" fill="none" stroke="#6f6f6f" stroke-width="1.300"/>
<text x="117" y="1053.1" font-size="15" text-anchor="end" fill="#222" textLength="36.500" lengthAdjust="spacingAndGlyphs">3.00B</text>
<text x="117" y="1122.1" font-size="15" text-anchor="end" fill="#222" textLength="36.500" lengthAdjust="spacingAndGlyphs">2.00B</text>
<text x="117" y="1191.6" font-size="15" text-anchor="end" fill="#222" textLength="36.500" lengthAdjust="spacingAndGlyphs">1.00B</text>
<text x="122.700" y="1006.500" font-size="14.500" fill="#222" textLength="105.500" lengthAdjust="spacingAndGlyphs">sum(population)</text>
<rect x="370.2" y="998.90" width="18" height="18" fill="#4ca9b8"/>
<text x="391.3" y="1011.50" font-size="13.300" fill="#222" textLength="33.3" lengthAdjust="spacingAndGlyphs">Africa</text>
<rect x="370.2" y="1023.68" width="18" height="18" fill="#98d3da"/>
<text x="391.3" y="1036.28" font-size="13.300" fill="#222" textLength="54.6" lengthAdjust="spacingAndGlyphs">Americas</text>
<rect x="370.2" y="1048.46" width="18" height="18" fill="#738893"/>
<text x="391.3" y="1061.06" font-size="13.300" fill="#222" textLength="24.6" lengthAdjust="spacingAndGlyphs">Asia</text>
<rect x="370.2" y="1073.24" width="18" height="18" fill="#c1c9cf"/>
<text x="391.3" y="1085.84" font-size="13.300" fill="#222" textLength="40.5" lengthAdjust="spacingAndGlyphs">Europe</text>
<rect x="370.2" y="1098.02" width="18" height="18" fill="#f09b50"/>
<text x="391.3" y="1110.62" font-size="13.300" fill="#222" textLength="46.6" lengthAdjust="spacingAndGlyphs">Oceania</text>
<g stroke="#2c9aab" fill="none" stroke-opacity=".85"><path d="M600.2 1246.0L620.4 1245.3L640.6 1243.7L660.9 1242.7L681.1 1240.2L701.3 1237.5L721.5 1227.7L741.7 1224.2L762.0 1226.2L782.2 1224.2" stroke-width="3.0"/>
<circle cx="600.2" cy="1246.0" r="4.65" stroke-width="4.5"/><circle cx="620.4" cy="1245.3" r="4.65" stroke-width="4.5"/><circle cx="640.6" cy="1243.7" r="4.65" stroke-width="4.5"/><circle cx="660.9" cy="1242.7" r="4.65" stroke-width="4.5"/><circle cx="681.1" cy="1240.2" r="4.65" stroke-width="4.5"/><circle cx="701.3" cy="1237.5" r="4.65" stroke-width="4.5"/><circle cx="721.5" cy="1227.7" r="4.65" stroke-width="4.5"/><circle cx="741.7" cy="1224.2" r="4.65" stroke-width="4.5"/><circle cx="762.0" cy="1226.2" r="4.65" stroke-width="4.5"/><circle cx="782.2" cy="1224.2" r="4.65" stroke-width="4.5"/></g>
<g stroke="#86cbd3" fill="none" stroke-opacity=".85"><path d="M600.2 1232.0L620.4 1230.0L640.6 1224.2L660.9 1222.3L681.1 1214.5L701.3 1201.8L721.5 1180.3L741.7 1157.9L762.0 1142.3L782.2 1127.7" stroke-width="3.0"/>
<circle cx="600.2" cy="1232.0" r="4.65" stroke-width="4.5"/><circle cx="620.4" cy="1230.0" r="4.65" stroke-width="4.5"/><circle cx="640.6" cy="1224.2" r="4.65" stroke-width="4.5"/><circle cx="660.9" cy="1222.3" r="4.65" stroke-width="4.5"/><circle cx="681.1" cy="1214.5" r="4.65" stroke-width="4.5"/><circle cx="701.3" cy="1201.8" r="4.65" stroke-width="4.5"/><circle cx="721.5" cy="1180.3" r="4.65" stroke-width="4.5"/><circle cx="741.7" cy="1157.9" r="4.65" stroke-width="4.5"/><circle cx="762.0" cy="1142.3" r="4.65" stroke-width="4.5"/><circle cx="782.2" cy="1127.7" r="4.65" stroke-width="4.5"/></g>
<g stroke="#5a7380" fill="none" stroke-opacity=".85"><path d="M600.2 1243.7L620.4 1243.3L640.6 1238.8L660.9 1234.9L681.1 1211.5L701.3 1188.1L721.5 1162.8L741.7 1134.5L762.0 1151.1L782.2 1136.1" stroke-width="3.0"/>
<circle cx="600.2" cy="1243.7" r="4.65" stroke-width="4.5"/><circle cx="620.4" cy="1243.3" r="4.65" stroke-width="4.5"/><circle cx="640.6" cy="1238.8" r="4.65" stroke-width="4.5"/><circle cx="660.9" cy="1234.9" r="4.65" stroke-width="4.5"/><circle cx="681.1" cy="1211.5" r="4.65" stroke-width="4.5"/><circle cx="701.3" cy="1188.1" r="4.65" stroke-width="4.5"/><circle cx="721.5" cy="1162.8" r="4.65" stroke-width="4.5"/><circle cx="741.7" cy="1134.5" r="4.65" stroke-width="4.5"/><circle cx="762.0" cy="1151.1" r="4.65" stroke-width="4.5"/><circle cx="782.2" cy="1136.1" r="4.65" stroke-width="4.5"/></g>
<g stroke="#b6bfc6" fill="none" stroke-opacity=".85"><path d="M600.2 1220.3L620.4 1221.3L640.6 1207.3L660.9 1201.8L681.1 1194.6L701.3 1171.6L721.5 1131.6L741.7 1084.2L762.0 1048.2L782.2 1020.1" stroke-width="3.0"/>
<circle cx="600.2" cy="1220.3" r="4.65" stroke-width="4.5"/><circle cx="620.4" cy="1221.3" r="4.65" stroke-width="4.5"/><circle cx="640.6" cy="1207.3" r="4.65" stroke-width="4.5"/><circle cx="660.9" cy="1201.8" r="4.65" stroke-width="4.5"/><circle cx="681.1" cy="1194.6" r="4.65" stroke-width="4.5"/><circle cx="701.3" cy="1171.6" r="4.65" stroke-width="4.5"/><circle cx="721.5" cy="1131.6" r="4.65" stroke-width="4.5"/><circle cx="741.7" cy="1084.2" r="4.65" stroke-width="4.5"/><circle cx="762.0" cy="1048.2" r="4.65" stroke-width="4.5"/><circle cx="782.2" cy="1020.1" r="4.65" stroke-width="4.5"/></g>
<g stroke="#ed8931" fill="none" stroke-opacity=".85"><path d="M600.2 1232.0L620.4 1229.7L640.6 1225.2L660.9 1217.0L681.1 1204.7L701.3 1186.2L721.5 1161.8L741.7 1145.8L762.0 1126.7L782.2 1114.6" stroke-width="3.0"/>
<circle cx="600.2" cy="1232.0" r="4.65" stroke-width="4.5"/><circle cx="620.4" cy="1229.7" r="4.65" stroke-width="4.5"/><circle cx="640.6" cy="1225.2" r="4.65" stroke-width="4.5"/><circle cx="660.9" cy="1217.0" r="4.65" stroke-width="4.5"/><circle cx="681.1" cy="1204.7" r="4.65" stroke-width="4.5"/><circle cx="701.3" cy="1186.2" r="4.65" stroke-width="4.5"/><circle cx="721.5" cy="1161.8" r="4.65" stroke-width="4.5"/><circle cx="741.7" cy="1145.8" r="4.65" stroke-width="4.5"/><circle cx="762.0" cy="1126.7" r="4.65" stroke-width="4.5"/><circle cx="782.2" cy="1114.6" r="4.65" stroke-width="4.5"/></g>
<path d="M582.5 1020.5H590.5V1260M582.5 1079.5H590.5M582.5 1138.4H590.5M582.5 1197.3H590.5" fill="none" stroke="#6f6f6f" stroke-width="1.300"/>
<text x="578" y="1025.8" font-size="15" text-anchor="end" fill="#222" textLength="43.5" lengthAdjust="spacingAndGlyphs">20,000</text>
<text x="578" y="1084.8" font-size="15" text-anchor="end" fill="#222" textLength="43.5" lengthAdjust="spacingAndGlyphs">15,000</text>
<text x="578" y="1143.7" font-size="15" text-anchor="end" fill="#222" textLength="43.5" lengthAdjust="spacingAndGlyphs">10,000</text>
<text x="578" y="1202.6" font-size="15" text-anchor="end" fill="#222" textLength="35.2" lengthAdjust="spacingAndGlyphs">5,000</text>
<text x="583.700" y="1006.500" font-size="14.500" fill="#222" textLength="130" lengthAdjust="spacingAndGlyphs">avg(gdp_per_capita)</text>
<rect x="832" y="998.90" width="18" height="18" fill="#4ca9b8"/>
<text x="853.1" y="1011.50" font-size="13.300" fill="#222" textLength="33.3" lengthAdjust="spacingAndGlyphs">Africa</text>
<rect x="832" y="1023.68" width="18" height="18" fill="#98d3da"/>
<text x="853.1" y="1036.28" font-size="13.300" fill="#222" textLength="54.6" lengthAdjust="spacingAndGlyphs">Americas</text>
<rect x="832" y="1048.46" width="18" height="18" fill="#738893"/>
<text x="853.1" y="1061.06" font-size="13.300" fill="#222" textLength="24.6" lengthAdjust="spacingAndGlyphs">Asia</text>
<rect x="832" y="1073.24" width="18" height="18" fill="#c1c9cf"/>
<text x="853.1" y="1085.84" font-size="13.300" fill="#222" textLength="40.5" lengthAdjust="spacingAndGlyphs">Europe</text>
<rect x="832" y="1098.02" width="18" height="18" fill="#f09b50"/>
<text x="853.1" y="1110.62" font-size="13.300" fill="#222" textLength="46.6" lengthAdjust="spacingAndGlyphs">Oceania</text>
</g></svg>
<svg class="a" style="left:936.70px;top:358.30px" width="377.80" height="81.60" viewBox="936.70 358.30 377.80 81.60">
<path d="M938.7 436.9V360.3H1312.5V436.9M1091.3 360.3V436.9M1221.3 360.3V436.9" fill="none" stroke="#dedede" stroke-width="1.5"/><path d="M937.95 436.9H1313.25" stroke="#d9d9d9" stroke-width="2.400" fill="none"/></svg>
<span class="t" style="left:950.30px;top:403.26px;font-size:18.6px;color:#555;transform:scaleX(0.9314);transform-origin:left center;font-weight:bold;">Country</span>
<svg class="a" style="left:1025.3px;top:404.7px" width="11" height="14.500" viewBox="0 0 11 14.500"><path d="M0 5.800L5.500 0 11 5.800zM0 8.700h11L5.500 14.500z" fill="#999"/></svg>
<span class="t" style="left:1103.00px;top:376.86px;font-size:18.6px;color:#555;transform:scaleX(0.9289);transform-origin:left center;font-weight:bold;">UN Region</span>
<svg class="a" style="left:1106.7px;top:404.7px" width="11" height="14.500" viewBox="0 0 11 14.500"><path d="M0 5.800L5.500 0 11 5.800zM0 8.700h11L5.500 14.500z" fill="#999"/></svg>
<span class="t" style="left:1251.15px;top:376.86px;font-size:18.6px;color:#555;transform:scaleX(0.9486);transform-origin:right center;font-weight:bold;">Years</span>
<svg class="a" style="left:1283.0px;top:402px" width="18.600" height="19" viewBox="0 0 18.600 19"><path d="M2.500 .1h2.600v15H7.400L3.700 18.900 0 15.100h2.500zM9.300 0.4h9v2.300h-9zM9.300 6h6.9v2.300h-6.9zM9.300 11.3h4.9v2.300h-4.9zM9.300 16.5h3v2.300h-3z" fill="#999"/></svg>
<div class="a" style="left:936.70px;top:438.1px;width:377.80px;height:419.50px;overflow:hidden">
<div class="a" style="left:2px;top:0.00px;width:371.30px;height:50.05px;background:#f9f9f9"></div>
<div class="a" style="left:2px;top:49.55px;width:371.30px;height:50.05px;background:#fff"></div>
<div class="a" style="left:2px;top:99.10px;width:371.30px;height:50.05px;background:#f9f9f9"></div>
<div class="a" style="left:2px;top:148.65px;width:371.30px;height:50.05px;background:#fff"></div>
<div class="a" style="left:2px;top:198.20px;width:371.30px;height:50.05px;background:#f9f9f9"></div>
<div class="a" style="left:2px;top:247.75px;width:371.30px;height:50.05px;background:#fff"></div>
<div class="a" style="left:2px;top:297.30px;width:371.30px;height:50.05px;background:#f9f9f9"></div>
<div class="a" style="left:2px;top:346.85px;width:371.30px;height:50.05px;background:#fff"></div>
<div class="a" style="left:2px;top:396.40px;width:371.30px;height:50.05px;background:#f9f9f9"></div>
<svg class="a" style="left:0;top:0" width="377.80" height="419.50" viewBox="936.70 438.1 377.80 419.50">
<path d="M938.7 438.1V857.6M1090.3 438.1V857.6M1218.3 438.1V857.6M1310 438.1V857.6M938.7 487.30H1310M938.7 536.85H1310M938.7 586.40H1310M938.7 635.95H1310M938.7 685.50H1310M938.7 735.05H1310M938.7 784.60H1310M938.7 834.15H1310M938.7 883.70H1310" fill="none" stroke="#dedede" stroke-width="1.5"/></svg>
<span class="t" style="left:13.60px;top:16.12px;font-size:18.4px;color:#555;transform:scaleX(0.9791);transform-origin:left center;-webkit-text-stroke:.3px #555;">Sweden</span>
<span class="t" style="left:165.80px;top:16.12px;font-size:18.4px;color:#555;transform:scaleX(0.9675);transform-origin:left center;-webkit-text-stroke:.3px #555;">Europe</span>
<span class="t" style="left:314.46px;top:16.12px;font-size:18.4px;color:#555;transform:scaleX(0.9860);transform-origin:right center;-webkit-text-stroke:.3px #555;">7,729</span>
<span class="t" style="left:13.60px;top:65.67px;font-size:18.4px;color:#555;letter-spacing:0.147px;-webkit-text-stroke:.3px #555;">Norway</span>
<span class="t" style="left:165.80px;top:65.67px;font-size:18.4px;color:#555;transform:scaleX(0.9675);transform-origin:left center;-webkit-text-stroke:.3px #555;">Europe</span>
<span class="t" style="left:314.46px;top:65.67px;font-size:18.4px;color:#555;transform:scaleX(0.9860);transform-origin:right center;-webkit-text-stroke:.3px #555;">7,717</span>
<span class="t" style="left:13.60px;top:115.22px;font-size:18.4px;color:#555;letter-spacing:0.139px;-webkit-text-stroke:.3px #555;">Netherlands</span>
<span class="t" style="left:165.80px;top:115.22px;font-size:18.4px;color:#555;transform:scaleX(0.9675);transform-origin:left center;-webkit-text-stroke:.3px #555;">Europe</span>
<span class="t" style="left:314.46px;top:115.22px;font-size:18.4px;color:#555;transform:scaleX(0.9860);transform-origin:right center;-webkit-text-stroke:.3px #555;">7,622</span>
<span class="t" style="left:13.60px;top:164.77px;font-size:18.4px;color:#555;letter-spacing:0.127px;-webkit-text-stroke:.3px #555;">Australia</span>
<span class="t" style="left:165.80px;top:164.77px;font-size:18.4px;color:#555;transform:scaleX(0.9763);transform-origin:left center;-webkit-text-stroke:.3px #555;">Oceania</span>
<span class="t" style="left:314.46px;top:164.77px;font-size:18.4px;color:#555;transform:scaleX(0.9860);transform-origin:right center;-webkit-text-stroke:.3px #555;">7,613</span>
<span class="t" style="left:13.60px;top:214.32px;font-size:18.4px;color:#555;letter-spacing:0.012px;-webkit-text-stroke:.3px #555;">Iceland</span>
<span class="t" style="left:165.80px;top:214.32px;font-size:18.4px;color:#555;transform:scaleX(0.9675);transform-origin:left center;-webkit-text-stroke:.3px #555;">Europe</span>
<span class="t" style="left:314.46px;top:214.32px;font-size:18.4px;color:#555;transform:scaleX(0.9860);transform-origin:right center;-webkit-text-stroke:.3px #555;">7,596</span>
<span class="t" style="left:13.60px;top:263.87px;font-size:18.4px;color:#555;transform:scaleX(0.9968);transform-origin:left center;-webkit-text-stroke:.3px #555;">Denmark</span>
<span class="t" style="left:165.80px;top:263.87px;font-size:18.4px;color:#555;transform:scaleX(0.9675);transform-origin:left center;-webkit-text-stroke:.3px #555;">Europe</span>
<span class="t" style="left:314.46px;top:263.87px;font-size:18.4px;color:#555;transform:scaleX(0.9860);transform-origin:right center;-webkit-text-stroke:.3px #555;">7,590</span>
<span class="t" style="left:13.60px;top:313.42px;font-size:18.4px;color:#555;letter-spacing:0.100px;-webkit-text-stroke:.3px #555;">Switzerland</span>
<span class="t" style="left:165.80px;top:313.42px;font-size:18.4px;color:#555;transform:scaleX(0.9675);transform-origin:left center;-webkit-text-stroke:.3px #555;">Europe</span>
<span class="t" style="left:314.46px;top:313.42px;font-size:18.4px;color:#555;transform:scaleX(0.9860);transform-origin:right center;-webkit-text-stroke:.3px #555;">7,529</span>
<span class="t" style="left:13.60px;top:362.97px;font-size:18.4px;color:#555;transform:scaleX(0.9713);transform-origin:left center;-webkit-text-stroke:.3px #555;">Canada</span>
<span class="t" style="left:165.80px;top:362.97px;font-size:18.4px;color:#555;letter-spacing:0.246px;-webkit-text-stroke:.3px #555;">Americas</span>
<span class="t" style="left:314.46px;top:362.97px;font-size:18.4px;color:#555;transform:scaleX(0.9860);transform-origin:right center;-webkit-text-stroke:.3px #555;">7,465</span>
<span class="t" style="left:13.60px;top:412.52px;font-size:18.4px;color:#555;transform:scaleX(0.9926);transform-origin:left center;-webkit-text-stroke:.3px #555;">New Zealand</span>
<span class="t" style="left:165.80px;top:412.52px;font-size:18.4px;color:#555;transform:scaleX(0.9763);transform-origin:left center;-webkit-text-stroke:.3px #555;">Oceania</span>
<span class="t" style="left:314.46px;top:412.52px;font-size:18.4px;color:#555;transform:scaleX(0.9860);transform-origin:right center;-webkit-text-stroke:.3px #555;">7,424</span>
</div>
<svg class="a" style="left:936.70px;top:855.60px" width="377.80" height="4" viewBox="936.70 855.60 377.80 4"><path d="M937.95 857.2H1313.25" stroke="#dedede" stroke-width="1.5"/></svg>
<div class="a" style="left:1311.8px;top:438.800px;width:11.90px;height:225.800px;background:#c9c9c9"></div>
<svg class="a" style="left:1377.00px;top:358.30px" width="376.90" height="81.60" viewBox="1377.00 358.30 376.90 81.60">
<path d="M1379.0 436.9V360.3H1751.9V436.9M1538.0 360.3V436.9M1662.3 360.3V436.9" fill="none" stroke="#dedede" stroke-width="1.5"/><path d="M1378.25 436.9H1752.65" stroke="#d9d9d9" stroke-width="2.400" fill="none"/></svg>
<span class="t" style="left:1389.20px;top:403.26px;font-size:18.6px;color:#555;transform:scaleX(0.9314);transform-origin:left center;font-weight:bold;">Country</span>
<svg class="a" style="left:1464.2px;top:404.7px" width="11" height="14.500" viewBox="0 0 11 14.500"><path d="M0 5.800L5.500 0 11 5.800zM0 8.700h11L5.500 14.500z" fill="#999"/></svg>
<span class="t" style="left:1549.70px;top:376.86px;font-size:18.6px;color:#555;transform:scaleX(0.9289);transform-origin:left center;font-weight:bold;">UN Region</span>
<svg class="a" style="left:1553.4px;top:404.7px" width="11" height="14.500" viewBox="0 0 11 14.500"><path d="M0 5.800L5.500 0 11 5.800zM0 8.700h11L5.500 14.500z" fill="#999"/></svg>
<span class="t" style="left:1689.75px;top:376.86px;font-size:18.6px;color:#555;transform:scaleX(0.9486);transform-origin:right center;font-weight:bold;">Years</span>
<svg class="a" style="left:1721.6px;top:402px" width="18.600" height="19" viewBox="0 0 18.600 19"><path d="M2.500 .1h2.600v15H7.400L3.700 18.900 0 15.100h2.500zM9.300 0.4h3v2.300h-3zM9.300 6h4.9v2.300h-4.9zM9.300 11.3h6.9v2.300h-6.9zM9.300 16.5h9v2.300h-9z" fill="#999"/></svg>
<div class="a" style="left:1377.00px;top:438.1px;width:376.90px;height:419.50px;overflow:hidden">
<div class="a" style="left:2px;top:0.00px;width:368.70px;height:50.05px;background:#f9f9f9"></div>
<div class="a" style="left:2px;top:49.55px;width:368.70px;height:50.05px;background:#fff"></div>
<div class="a" style="left:2px;top:99.10px;width:368.70px;height:50.05px;background:#f9f9f9"></div>
<div class="a" style="left:2px;top:148.65px;width:368.70px;height:50.05px;background:#fff"></div>
<div class="a" style="left:2px;top:198.20px;width:368.70px;height:50.05px;background:#f9f9f9"></div>
<div class="a" style="left:2px;top:247.75px;width:368.70px;height:50.05px;background:#fff"></div>
<div class="a" style="left:2px;top:297.30px;width:368.70px;height:50.05px;background:#f9f9f9"></div>
<div class="a" style="left:2px;top:346.85px;width:368.70px;height:50.05px;background:#fff"></div>
<div class="a" style="left:2px;top:396.40px;width:368.70px;height:50.05px;background:#f9f9f9"></div>
<svg class="a" style="left:0;top:0" width="376.90" height="419.50" viewBox="1377.00 438.1 376.90 419.50">
<path d="M1379.0 438.1V857.6M1537.0 438.1V857.6M1659.5 438.1V857.6M1747.7 438.1V857.6M1379.0 487.30H1747.7M1379.0 536.85H1747.7M1379.0 586.40H1747.7M1379.0 635.95H1747.7M1379.0 685.50H1747.7M1379.0 735.05H1747.7M1379.0 784.60H1747.7M1379.0 834.15H1747.7M1379.0 883.70H1747.7" fill="none" stroke="#dedede" stroke-width="1.5"/></svg>
<span class="t" style="left:12.20px;top:16.12px;font-size:18.4px;color:#555;letter-spacing:0.164px;-webkit-text-stroke:.3px #555;">Tokelau</span>
<span class="t" style="left:171.50px;top:16.12px;font-size:18.4px;color:#555;transform:scaleX(0.9763);transform-origin:left center;-webkit-text-stroke:.3px #555;">Oceania</span>
<span class="t" style="left:338.34px;top:16.12px;font-size:18.4px;color:#555;transform:scaleX(0.9860);transform-origin:right center;-webkit-text-stroke:.3px #555;">69</span>
<span class="t" style="left:12.20px;top:65.67px;font-size:18.4px;color:#555;transform:scaleX(0.9786);transform-origin:left center;-webkit-text-stroke:.3px #555;">Sierra Leone</span>
<span class="t" style="left:171.50px;top:65.67px;font-size:18.4px;color:#555;letter-spacing:0.334px;-webkit-text-stroke:.3px #555;">Africa</span>
<span class="t" style="left:312.76px;top:65.67px;font-size:18.4px;color:#555;transform:scaleX(0.9860);transform-origin:right center;-webkit-text-stroke:.3px #555;">3,456</span>
<span class="t" style="left:12.20px;top:115.22px;font-size:18.4px;color:#555;letter-spacing:0.389px;-webkit-text-stroke:.3px #555;">Mali</span>
<span class="t" style="left:171.50px;top:115.22px;font-size:18.4px;color:#555;letter-spacing:0.334px;-webkit-text-stroke:.3px #555;">Africa</span>
<span class="t" style="left:312.76px;top:115.22px;font-size:18.4px;color:#555;transform:scaleX(0.9860);transform-origin:right center;-webkit-text-stroke:.3px #555;">3,700</span>
<span class="t" style="left:12.20px;top:164.77px;font-size:18.4px;color:#555;letter-spacing:0.082px;-webkit-text-stroke:.3px #555;">Angola</span>
<span class="t" style="left:171.50px;top:164.77px;font-size:18.4px;color:#555;letter-spacing:0.334px;-webkit-text-stroke:.3px #555;">Africa</span>
<span class="t" style="left:312.76px;top:164.77px;font-size:18.4px;color:#555;transform:scaleX(0.9860);transform-origin:right center;-webkit-text-stroke:.3px #555;">3,747</span>
<span class="t" style="left:12.20px;top:214.32px;font-size:18.4px;color:#555;transform:scaleX(0.9879);transform-origin:left center;-webkit-text-stroke:.3px #555;">South Sudan</span>
<span class="t" style="left:171.50px;top:214.32px;font-size:18.4px;color:#555;letter-spacing:0.334px;-webkit-text-stroke:.3px #555;">Africa</span>
<span class="t" style="left:312.76px;top:214.32px;font-size:18.4px;color:#555;transform:scaleX(0.9860);transform-origin:right center;-webkit-text-stroke:.3px #555;">3,751</span>
<span class="t" style="left:12.20px;top:263.87px;font-size:18.4px;color:#555;letter-spacing:0.292px;-webkit-text-stroke:.3px #555;">Afghanistan</span>
<span class="t" style="left:171.50px;top:263.87px;font-size:18.4px;color:#555;transform:scaleX(0.9891);transform-origin:left center;-webkit-text-stroke:.3px #555;">Asia</span>
<span class="t" style="left:312.76px;top:263.87px;font-size:18.4px;color:#555;transform:scaleX(0.9860);transform-origin:right center;-webkit-text-stroke:.3px #555;">3,929</span>
<span class="t" style="left:12.20px;top:313.42px;font-size:18.4px;color:#555;letter-spacing:0.307px;-webkit-text-stroke:.3px #555;">Mozambique</span>
<span class="t" style="left:171.50px;top:313.42px;font-size:18.4px;color:#555;letter-spacing:0.334px;-webkit-text-stroke:.3px #555;">Africa</span>
<span class="t" style="left:312.76px;top:313.42px;font-size:18.4px;color:#555;transform:scaleX(0.9860);transform-origin:right center;-webkit-text-stroke:.3px #555;">4,016</span>
<span class="t" style="left:12.20px;top:362.97px;font-size:18.4px;color:#555;letter-spacing:0.214px;-webkit-text-stroke:.3px #555;">Timor-Leste</span>
<span class="t" style="left:171.50px;top:362.97px;font-size:18.4px;color:#555;transform:scaleX(0.9891);transform-origin:left center;-webkit-text-stroke:.3px #555;">Asia</span>
<span class="t" style="left:312.76px;top:362.97px;font-size:18.4px;color:#555;transform:scaleX(0.9860);transform-origin:right center;-webkit-text-stroke:.3px #555;">4,044</span>
<span class="t" style="left:12.20px;top:412.52px;font-size:18.4px;color:#555;transform:scaleX(0.9970);transform-origin:left center;-webkit-text-stroke:.3px #555;">Equatorial</span>
<span class="t" style="left:171.50px;top:412.52px;font-size:18.4px;color:#555;letter-spacing:0.334px;-webkit-text-stroke:.3px #555;">Africa</span>
<span class="t" style="left:312.76px;top:412.52px;font-size:18.4px;color:#555;transform:scaleX(0.9860);transform-origin:right center;-webkit-text-stroke:.3px #555;">4,088</span>
</div>
<svg class="a" style="left:1377.00px;top:855.60px" width="376.90" height="4" viewBox="1377.00 855.60 376.90 4"><path d="M1378.25 857.2H1752.65" stroke="#dedede" stroke-width="1.5"/></svg>
<div class="a" style="left:1749px;top:438.800px;width:12.90px;height:225.800px;background:#c9c9c9"></div>
<span class="t" style="left:1000.00px;top:963.69px;font-size:32.5px;color:#222;transform:scaleX(0.9182);transform-origin:left center;font-weight:bold;">World Life Expectancy</span>
<span class="t" style="left:1000.00px;top:1027.35px;font-size:20.5px;color:#333;letter-spacing:0.173px;-webkit-text-stroke:.3px #333;">Life expectancy of the world has changed dramatically over the past 100</span>
<span class="t" style="left:1000.00px;top:1052.85px;font-size:20.5px;color:#333;letter-spacing:0.055px;-webkit-text-stroke:.3px #333;">years. This app explores that trend across the world's regions, and in doing so</span>
<span class="t" style="left:1000.00px;top:1078.35px;font-size:20.5px;color:#333;letter-spacing:0.145px;-webkit-text-stroke:.3px #333;">we see some interesting patterns. Compare this data with GDP across the</span>
<span class="t" style="left:1000.00px;top:1103.85px;font-size:20.5px;color:#333;letter-spacing:0.035px;-webkit-text-stroke:.3px #333;">same time periods and regions.</span>
<span class="t" style="left:1000.00px;top:1157.05px;font-size:20.5px;color:#333;transform:scaleX(0.9662);transform-origin:left center;font-weight:bold;">Click on specific region on the multi-line chart on the left to see data only</span>
<span class="t" style="left:1000.00px;top:1182.55px;font-size:20.5px;color:#333;transform:scaleX(0.9806);transform-origin:left center;font-weight:bold;">for that region and year</span>
<div class="a" style="left:2323.300px;top:114.500px;width:4px;height:1168px;background:linear-gradient(to right,rgba(0,0,0,0),rgba(0,0,0,.07) 50%,rgba(0,0,0,.30))"></div>
<div class="a" style="left:2327.200px;top:114.500px;width:73px;height:1168px;background:#efefef"></div>
<div class="a" style="left:2329.100px;top:114.500px;width:71px;height:32.700px;background:#e6e6e6;border-bottom:1.700px solid #cbcbcb;box-sizing:border-box"></div>
<span class="t" style="left:2343.20px;top:121.90px;font-size:15px;color:#6e6e6e;transform:scaleX(0.8987);transform-origin:left center;-webkit-text-stroke:.25px #6e6e6e;">DASH.</span>
<svg class="a" style="left:2347px;top:160px" width="32" height="18" viewBox="0 0 32 18"><path d="M4.200 6.700h2.700v4h4v2.700h-4v4H4.200v-4h-4V10.700h4zM13.300 4.500h4.700V18h-4.700zM20.200 0h4.700v18h-4.700zM27.100 10.300h4.500V18h-4.500z" fill="#2b85c7"/></svg>
<span class="t" style="left:2341.00px;top:185.88px;font-size:15.2px;color:#2b85c7;transform:scaleX(0.9646);transform-origin:left center;-webkit-text-stroke:.25px #2b85c7;">Visuals</span>
<svg class="a" style="left:2349px;top:235px" width="28.500" height="14.500" viewBox="0 0 28.500 14.500"><path d="M4.100 3.300h2.700v4h4V10h-4v4H4.100v-4h-4V7.300h4zM13.300 0h15L22.600 6.400v8.100L19 11.300V6.400z" fill="#2b85c7"/></svg>
<span class="t" style="left:2343.90px;top:258.33px;font-size:15.2px;color:#2b85c7;transform:scaleX(0.9909);transform-origin:left center;-webkit-text-stroke:.25px #2b85c7;">Filters</span>
<svg class="a" style="left:2354px;top:304.500px" width="21" height="19" viewBox="0 0 21 19"><path d="M13.96 8.53L13.96 10.07L11.90 10.72L11.47 11.76L12.46 13.68L11.38 14.76L9.46 13.77L8.42 14.20L7.77 16.26L6.23 16.26L5.58 14.20L4.54 13.77L2.62 14.76L1.54 13.68L2.53 11.76L2.10 10.72L0.04 10.07L0.04 8.53L2.10 7.88L2.53 6.84L1.54 4.92L2.62 3.84L4.54 4.83L5.58 4.40L6.23 2.34L7.77 2.34L8.42 4.40L9.46 4.83L11.38 3.84L12.46 4.92L11.47 6.84L11.90 7.88ZM9.60 9.30A2.6 2.6 0 1 0 4.40 9.30A2.6 2.6 0 1 0 9.60 9.30ZM20.56 3.03L20.56 4.17L19.21 4.59L18.82 5.28L19.12 6.66L18.14 7.23L17.09 6.27L16.31 6.27L15.26 7.23L14.28 6.66L14.58 5.28L14.19 4.59L12.84 4.17L12.84 3.03L14.19 2.61L14.58 1.92L14.28 0.54L15.26 -0.03L16.31 0.93L17.09 0.93L18.14 -0.03L19.12 0.54L18.82 1.92L19.21 2.61ZM18.00 3.60A1.3 1.3 0 1 0 15.40 3.60A1.3 1.3 0 1 0 18.00 3.60ZM20.56 14.43L20.56 15.57L19.21 15.99L18.82 16.68L19.12 18.06L18.14 18.63L17.09 17.67L16.31 17.67L15.26 18.63L14.28 18.06L14.58 16.68L14.19 15.99L12.84 15.57L12.84 14.43L14.19 14.01L14.58 13.32L14.28 11.94L15.26 11.37L16.31 12.33L17.09 12.33L18.14 11.37L19.12 11.94L18.82 13.32L19.21 14.01ZM18.00 15.00A1.3 1.3 0 1 0 15.40 15.00A1.3 1.3 0 1 0 18.00 15.00Z" fill="#2b85c7" fill-rule="evenodd"/></svg>
<span class="t" style="left:2337.90px;top:330.33px;font-size:15.2px;color:#2b85c7;transform:scaleX(0.9650);transform-origin:left center;-webkit-text-stroke:.25px #2b85c7;">Settings</span>
<svg class="a" style="left:2353.500px;top:377.800px" width="21.500" height="18" viewBox="0 0 21.500 18"><g fill="none" stroke="#2b85c7" stroke-width="1.500" stroke-linejoin="round"><path d="M5 .9h11.500l4.200 5.400L10.750 17 .8 6.300z"/><path d="M.8 6.300h19.900M7.200 6.300L10.750 17 14.300 6.300M5 .9l2.200 5.400L10.750.9l3.550 5.400L16.500.9"/></g></svg>
<span class="t" style="left:2348.75px;top:402.83px;font-size:15.2px;color:#2b85c7;transform:scaleX(0.9233);transform-origin:left center;-webkit-text-stroke:.25px #2b85c7;">Style</span>
</div></body></html>
